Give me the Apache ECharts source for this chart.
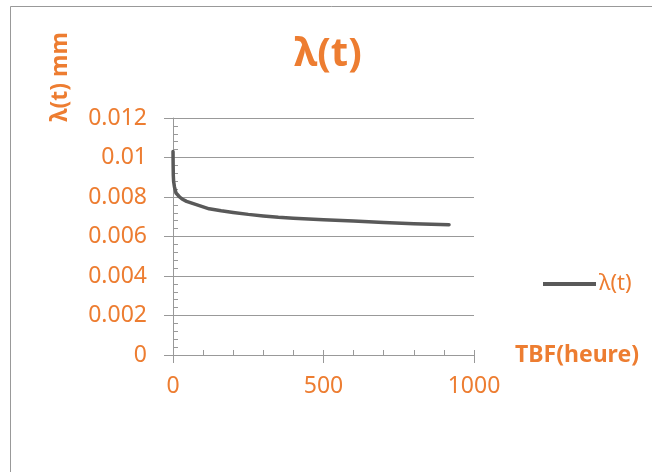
<!DOCTYPE html>
<html>
<head>
<meta charset="utf-8">
<script src="https://cdn.jsdelivr.net/npm/echarts@6/dist/echarts.min.js"></script>
<style>
  html, body { margin: 0; padding: 0; background: #fff; }
  #main { width: 652px; height: 472px; }
</style>
</head>
<body>
<div id="main"></div>
<script>
// TBF en heures et taux de défaillance
let tbf = [0.1, 0.3, 0.6, 1, 2, 3, 5, 7, 10, 15, 22, 30, 45, 60, 90, 120, 160, 200, 250, 300, 350, 400, 500, 600, 700, 800, 917]
let lambda = [0.0103, 0.0099, 0.0095, 0.0091, 0.0088, 0.0087, 0.0085, 0.0084, 0.0082, 0.0081, 0.0080, 0.0079, 0.00778, 0.0077, 0.00755, 0.0074, 0.0073, 0.00722, 0.00712, 0.00704, 0.00697, 0.00692, 0.00685, 0.00678, 0.00671, 0.00665, 0.0066]
let yTicks = [0, 0.002, 0.004, 0.006, 0.008, 0.01, 0.012]
let xTicks = [0, 500, 1000]

let orange = '#ED7D31'
let font = 'Noto Sans'

let points = tbf.map(function (t, i) { return [t, lambda[i]] })

let myChart = echarts.init(document.getElementById('main'))
myChart.setOption({
  animation: false,
  backgroundColor: '#fff',
  title: {
    text: 'λ(t)',
    left: 323,
    top: 30,
    textAlign: 'center',
    textStyle: { color: orange, fontSize: 40, fontWeight: 'bold', fontFamily: font }
  },
  legend: {
    left: 538,
    top: 268,
    itemWidth: 53,
    itemHeight: 22,
    itemGap: 4,
    textStyle: { color: orange, fontSize: 22, fontFamily: font, padding: [0, 0, 0, -2] },
    data: [{ name: 'λ(t)', icon: 'path://M0,0 L53,0 L53,4 L0,4 Z', itemStyle: { color: '#595959' } }]
  },
  grid: { left: 173, right: 178, top: 118, bottom: 117 },
  xAxis: [{
    type: 'value',
    min: 0, max: 1000, interval: 500,
    name: 'TBF(heure)',
    nameLocation: 'end',
    nameGap: 41,
    nameTextStyle: { color: orange, fontSize: 23, fontWeight: 'bold', fontFamily: font, align: 'left', verticalAlign: 'middle', padding: [10, 0, 0, 0] },
    axisLine: { lineStyle: { color: '#999', width: 1 } },
    axisTick: { length: 8, lineStyle: { color: '#999' } },
    axisLabel: {
      color: orange, fontSize: 23, fontFamily: font, margin: 20,
      formatter: function (v) { return xTicks.indexOf(v) >= 0 ? String(v) : '' }
    },
    splitLine: { show: false }
  }, {
    type: 'value',
    position: 'bottom',
    min: 0, max: 1000, interval: 100,
    axisLine: { show: false },
    axisTick: { inside: true, length: 5, lineStyle: { color: '#999' } },
    axisLabel: { show: false },
    splitLine: { show: false }
  }],
  yAxis: [{
    type: 'value',
    min: 0, max: 0.012, interval: 0.002,
    axisLine: { show: true, lineStyle: { color: '#999', width: 1 } },
    axisTick: { show: true, length: 9, lineStyle: { color: '#999' } },
    axisLabel: {
      color: orange, fontSize: 23, fontFamily: font, margin: 26,
      formatter: function (v) {
        let t = yTicks.find(function (k) { return Math.abs(k - v) < 1e-9 })
        return t === undefined ? '' : String(t)
      }
    },
    splitLine: { lineStyle: { color: '#999', width: 1 } }
  }, {
    type: 'value',
    position: 'left',
    min: 0, max: 0.012, interval: 0.0004,
    axisLine: { show: false },
    axisTick: { show: true, inside: true, length: 5, lineStyle: { color: '#999' } },
    axisLabel: { show: false },
    splitLine: { show: false }
  }],
  graphic: [{
    type: 'rect',
    shape: { x: 10.5, y: 6.5, width: 700, height: 520 },
    style: { fill: 'none', stroke: '#999', lineWidth: 1 },
    z: -1
  }, {
    type: 'text',
    x: 60, y: 77,
    rotation: Math.PI / 2,
    style: { text: 'λ(t) mm', fill: orange, font: 'bold 23px "Noto Sans"', align: 'center', verticalAlign: 'middle' }
  }],
  series: [{
    name: 'λ(t)',
    type: 'line',
    smooth: false,
    symbol: 'none',
    data: points,
    lineStyle: { color: '#595959', width: 3.5, join: 'round', cap: 'round' },
    itemStyle: { color: '#595959' }
  }]
})
</script>
</body>
</html>
